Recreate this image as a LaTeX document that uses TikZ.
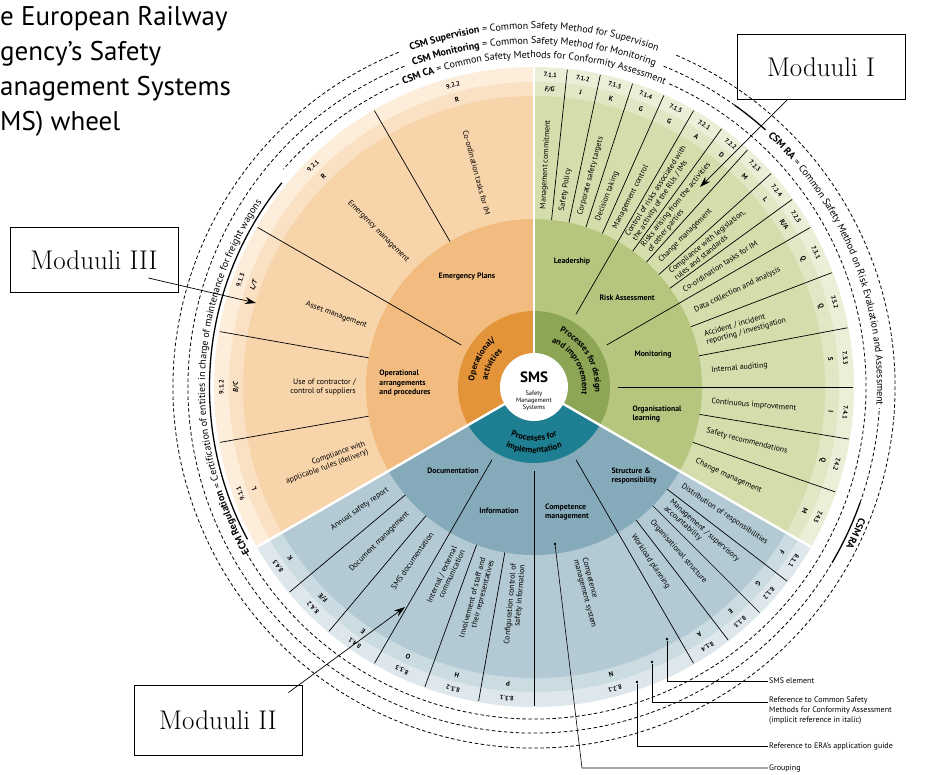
\documentclass[tikz,border=0pt]{standalone}
\usepackage{fontspec}
\setsansfont{PT Sans}
\usetikzlibrary{positioning, calc, arrows.meta, decorations.text}

% ring colours: A inner ... E outer
\definecolor{orA}{RGB}{228,148,56}
\definecolor{orB}{RGB}{242,188,128}
\definecolor{orC}{RGB}{248,212,170}
\definecolor{orD}{RGB}{251,225,195}
\definecolor{orE}{RGB}{253,237,219}
\definecolor{grA}{RGB}{141,166,86}
\definecolor{grB}{RGB}{182,198,127}
\definecolor{grC}{RGB}{212,221,171}
\definecolor{grD}{RGB}{225,231,196}
\definecolor{grE}{RGB}{235,239,216}
\definecolor{blA}{RGB}{31,127,146}
\definecolor{blB}{RGB}{133,170,186}
\definecolor{blC}{RGB}{179,201,211}
\definecolor{blD}{RGB}{203,219,226}
\definecolor{blE}{RGB}{221,231,236}

\begin{document}
\begin{tikzpicture}[x=1pt, y=1pt, font=\sffamily,
    elem/.style={font=\sffamily\fontsize{7.9}{8.8}\selectfont, inner sep=0pt},
    grp/.style={font=\sffamily\bfseries\fontsize{7.8}{9.2}\selectfont, align=left, inner sep=0pt},
    num/.style={font=\sffamily\bfseries\fontsize{6.4}{6.4}\selectfont, inner sep=0pt},
    lett/.style={font=\sffamily\bfseries\fontsize{6.8}{6.8}\selectfont, inner sep=0pt},
    spoke/.style={line width=0.7pt},
    ring/.style={line width=0.8pt, dash pattern=on 3.5pt off 2.5pt},
    scope line/.style={line width=1.3pt},
    arctext/.style={decorate, decoration={text along path, text align=center, text={#1}}},
    modbox/.style={draw, line width=0.8pt, minimum width=168pt, minimum height=65pt, font=\rmfamily\fontsize{27}{30}\selectfont},
    pointer/.style={-{Stealth[length=11pt, width=7pt]}, line width=0.7pt},
    legend/.style={font=\sffamily\fontsize{8}{10}\selectfont, align=left, inner sep=1pt},
    dot/.style={circle, fill, inner sep=0pt, minimum size=2.6pt},
  ]
\useasboundingbox (-534,-387) rectangle (397,387);

% title
\node[anchor=north west, align=left, inner sep=0pt, font=\sffamily\fontsize{27}{35}\selectfont] (title) at (-534,381)
  {e European Railway\\gency's Safety\\anagement Systems\\MS) wheel};

% the three sectors, outer ring first
\foreach \s/\e/\col in {90/210/or, -30/90/gr, 210/330/bl} {
  \foreach \r/\k in {320/E, 305/D, 291/C, 168/B, 76/A}
    \fill[\col\k] (0,0) -- (\s:\r) arc[start angle=\s, end angle=\e, radius=\r] -- cycle;
}
\fill[white] (0,0) circle (34);

% spokes between elements
\foreach \a in {84,78,72,66,54,48,42,36,21,10.7,-9.4,-19.2,120,170,190,220,230,250,260,307.5,315,322.5}
  \draw[spoke] (\a:168) -- (\a:319);
% spokes between groups
\foreach \a in {60,30,0,150,240,270,300}
  \draw[spoke] (\a:84) -- (\a:319);
% white gaps between sectors
\foreach \a in {90,210,330}
  \draw[white, line width=2.4pt] (0,0) -- (\a:322);

% centre
\node[font=\sffamily\bfseries\fontsize{15}{15}\selectfont] (sms) at (0,10) {SMS};
\node[align=center, font=\sffamily\fontsize{6.4}{7.4}\selectfont, below=1pt of sms] (smsfull) {Safety\\Management\\Systems};

% inner ring labels
\path[arctext={|\sffamily\bfseries\fontsize{8.6}{9}\selectfont|Processes for design}] (90:61) arc[start angle=90, end angle=-30, radius=61];
\path[arctext={|\sffamily\bfseries\fontsize{8.6}{9}\selectfont|and improvement}] (90:48) arc[start angle=90, end angle=-30, radius=48];
\path[arctext={|\sffamily\bfseries\fontsize{8.6}{9}\selectfont|Operational/}] (212:60) arc[start angle=212, end angle=92, radius=60];
\path[arctext={|\sffamily\bfseries\fontsize{8.6}{9}\selectfont|activities}] (212:47) arc[start angle=212, end angle=92, radius=47];
\path[arctext={|\sffamily\bfseries\fontsize{8.6}{9}\selectfont|Processes for}] (215:54) arc[start angle=215, end angle=325, radius=54];
\path[arctext={|\sffamily\bfseries\fontsize{8.6}{9}\selectfont|implementation}] (215:66) arc[start angle=215, end angle=325, radius=66];

% group labels
\node[grp] (emerg) at (-67,110) {Emergency Plans};
\node[grp] (operarr) at (-129,4) {Operational\\arrangements\\and procedures};
\node[grp] (lead) at (38,125) {Leadership};
\node[grp] (risk) at (93,89) {Risk Assessment};
\node[grp] (monit) at (119,32) {Monitoring};
\node[grp] (orglearn) at (123,-27) {Organisational\\learning};
\node[grp] (docu) at (-81,-84) {Documentation};
\node[grp] (info) at (-35,-124) {Information};
\node[grp] (compet) at (33,-125) {Competence\\management};
\node[grp] (struct) at (100,-89) {Structure \&\\responsibility};

% elements on the right half: text reads outwards
\foreach \a/\n/\l/\t in {
    87/7.1.1/{\itshape F/G}/{Management commitment},
    81/7.1.2/J/{Safety Policy},
    75/7.1.3/K/{Corporate safety targets},
    69/7.1.4/G/{Decision taking},
    63/7.1.5/G/{Management control},
    57/7.2.1/A/{Control of risks associated with\\the activity of the RUs / IMs},
    51/7.2.2/D/{Risks arising from the activities\\of other parties},
    45/7.2.3/M/{Change management},
    39/7.2.4/L/{Compliance with legislation,\\rules and standards},
    33/7.2.5/{R/A}/{Co-ordination tasks for IM},
    25.5/7.3.1/Q/{Data collection and analysis},
    15.8/7.3.2/Q/{Accident / incident\\reporting / investigation},
    5.3/7.3.3/S/{Internal auditing},
    -4.7/7.4.1/I/{Continuous improvement},
    -14.3/7.4.2/Q/{Safety recommendations},
    -24.6/7.4.3/M/{Change management},
    285/8.2.1/N/{Competence\\management system},
    303.75/8.1.4/A/{Workload planning},
    311.25/8.1.3/E/{Organisational structure},
    318.75/8.1.2/G/{Management / supervisory\\accountability},
    326.25/8.1.1/F/{Distribution of responsibilities}} {
  \node[elem, anchor=west, align=left, rotate=\a] at (\a:178) {\t};
  \node[num, rotate=\a-90] at (\a:312.5) {\n};
  \node[lett, rotate=\a-90] at (\a:298) {\l};
}
% elements on the left half: text reads inwards
\foreach \a/\n/\l/\t in {
    105/9.2.2/R/{Co-ordination tasks for IM},
    135/9.2.1/R/{Emergency management},
    160/9.1.3/{\itshape L/T}/{Asset management},
    180/9.1.2/{\itshape B/C}/{Use of contractor /\\control of suppliers},
    200/9.1.1/L/{Compliance with\\applicable rules (delivery)},
    215/8.4.3/K/{Annual safety report},
    225/8.4.2/{F/E}/{Document management},
    235/8.4.1/E/{SMS documentation},
    245/8.3.3/O/{Internal / external\\communication},
    255/8.3.2/H/{Involvement of staff and\\their representatives},
    265/8.3.1/P/{Configuration control of\\safety information}} {
  \node[elem, anchor=east, align=right, rotate=\a-180] at (\a:178) {\t};
  \node[num, rotate=\a-90] at (\a:312.5) {\n};
  \node[lett, rotate=\a-90] at (\a:298) {\l};
}

% dashed method rings, broken where their names run
\draw[ring] (114:332) arc[start angle=114, end angle=139, radius=332];
\draw[ring] (210:332) arc[start angle=210, end angle=426, radius=332];
\draw[ring] (112:346) arc[start angle=112, end angle=329.5, radius=346];
\draw[ring] (340.5:346) arc[start angle=340.5, end angle=356.5, radius=346];
\draw[ring] (54.5:346) arc[start angle=54.5, end angle=68, radius=346];
\draw[ring] (112:361) arc[start angle=112, end angle=427, radius=361];
% solid parts: the elements a method or regulation covers
\draw[scope line] (329.5:346) arc[start angle=329.5, end angle=340.5, radius=346];
\draw[scope line] (48:346) arc[start angle=48, end angle=54.5, radius=346];
\draw[scope line] (141:324.5) arc[start angle=141, end angle=208, radius=324.5];
\path[arctext={|\sffamily\bfseries|CSM CA|\sffamily\mdseries| = Common Safety Methods for Conformity Assessment}]
  (150:329) arc[start angle=150, end angle=30, radius=329];
\path[arctext={|\sffamily\bfseries|CSM Monitoring|\sffamily\mdseries| = Common Safety Method for Monitoring}]
  (150:343) arc[start angle=150, end angle=30, radius=343];
\path[arctext={|\sffamily\bfseries|CSM Supervision|\sffamily\mdseries| = Common Safety Method for Supervision}]
  (150:358) arc[start angle=150, end angle=30, radius=358];
\path[arctext={|\sffamily\bfseries|CSM RA|\sffamily\mdseries| = Common Safety Method on Risk Evaluation and Assessment}]
  (60:343) arc[start angle=60, end angle=-16, radius=343];
\node[font=\sffamily\bfseries\fontsize{10}{10}\selectfont, rotate=-114, inner sep=0pt] (csmra) at (-24.5:354) {CSM RA};
\path[arctext={|\sffamily\bfseries|ECM Regulation|\sffamily\mdseries| = Certification of entities in charge of maintenance for freight wagons}]
  (230:329) arc[start angle=230, end angle=126, radius=329];

% module call-outs
\node[modbox] (modI) at (287,320) {Moduuli I};
\node[modbox] (modIII) at (-440,127) {Moduuli III};
\node[modbox, minimum height=70pt] (modII) at (-316,-333) {Moduuli II};
\coordinate (tipI) at (166,200);
\coordinate (tipIII) at (-278,84);
\coordinate (tipII) at (-129,-220);
\draw[pointer] ($(modI.south west)!0.3!(modI.south east)$) -- (tipI);
\draw[pointer] ($(modIII.east)+(-30,-18)$) -- (tipIII);
\draw[pointer] ($(modII.north east)+(-14,-8)$) -- (tipII);

% legend
\node[dot] (smsdot) at (133,-252) {};
\node[dot] (csmdot) at (118,-275) {};
\node[dot] (eradot) at (103,-295) {};
\node[dot] (grpdot) at (21,-157) {};
\coordinate (grpbend) at (48,-381);
\node[legend, anchor=west] (smsleg) at (234,-294) {SMS element};
\node[legend, anchor=north west] (csmleg) at (234,-309) {Reference to Common Safety\\Methods for Conformity Assessment\\(implicit reference in italic)};
\node[legend, anchor=west] (eraleg) at (234,-359) {Reference to ERA's application guide};
\node[legend, anchor=west] (grpleg) at (234,-381) {Grouping};
\draw[line width=0.6pt] (smsdot) |- (smsleg.west);
\draw[line width=0.6pt] (csmdot) |- ($(csmleg.north west)+(0,-6)$);
\draw[line width=0.6pt] (eradot) |- (eraleg.west);
\draw[line width=0.6pt] (grpdot) -- (grpbend) -- (grpleg.west);
\end{tikzpicture}
\end{document}
